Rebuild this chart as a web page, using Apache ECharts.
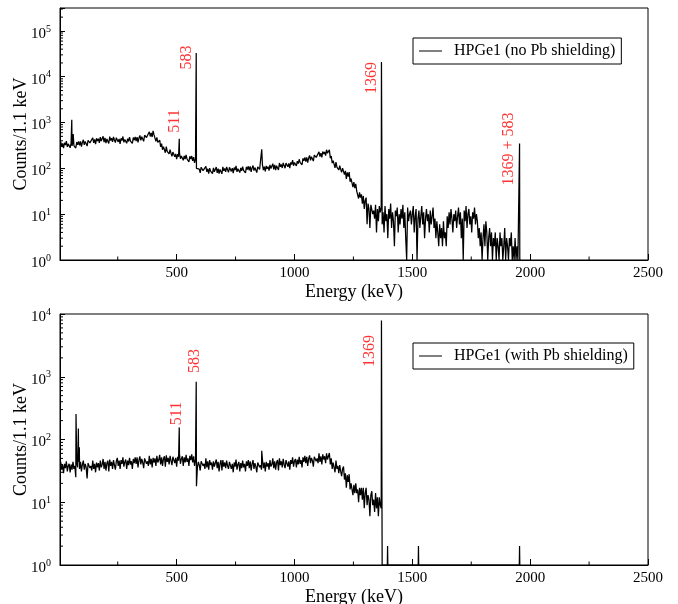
<!DOCTYPE html>
<html><head><meta charset="utf-8">
<script src="https://cdn.jsdelivr.net/npm/echarts@6/dist/echarts.min.js"></script>
<style>html,body{margin:0;padding:0;background:#fff}#c{width:678px;height:604px}</style>
</head><body><div id="c"></div>
<script>
// Energy grid of the continuum samples (keV): E = binStart + i * binWidth
const binStart = 8, binWidth = 4;

// HPGe1, no Pb shielding: continuum counts, E = 8 ... 1960 keV (20 samples per row = 80 keV)
const countsNoPb = [
  385, 302, 352, 275, 362, 322, 395, 295, 342, 369, 281, 355, 308, 382, 315, 345, 278, 375, 328, 389,
  317, 390, 299, 369, 420, 326, 388, 358, 306, 410, 433, 360, 391, 339, 465, 361, 429, 339, 453, 394,
  446, 361, 480, 395, 421, 502, 374, 463, 357, 438, 472, 349, 493, 404, 455, 378, 485, 417, 366, 468,
  483, 378, 441, 344, 454, 403, 496, 370, 428, 462, 353, 445, 386, 479, 395, 433, 349, 470, 412, 487,
  391, 482, 370, 458, 523, 409, 489, 454, 390, 528, 562, 472, 517, 454, 629, 496, 597, 483, 655, 538,
  525, 387, 475, 367, 368, 415, 294, 347, 255, 299, 309, 219, 298, 236, 257, 206, 257, 214, 182, 227,
  232, 179, 206, 158, 205, 180, 219, 162, 186, 198, 150, 187, 160, 196, 160, 173, 138, 184, 159, 186,
  145, 175, 132, 159, 100, 92, 106, 96, 80, 106, 109, 89, 95, 82, 110, 84, 98, 77, 101, 87,
  95, 77, 102, 84, 90, 107, 80, 99, 77, 95, 102, 76, 108, 88, 100, 84, 108, 93, 82, 105,
  110, 86, 101, 79, 104, 92, 113, 84, 98, 106, 81, 102, 88, 109, 90, 99, 80, 108, 94, 111,
  90, 110, 84, 102, 115, 89, 104, 96, 81, 108, 114, 95, 102, 88, 120, 92, 109, 86, 113, 98,
  109, 89, 119, 99, 106, 127, 95, 119, 92, 114, 123, 92, 131, 108, 122, 102, 132, 115, 101, 130,
  137, 108, 128, 101, 135, 121, 151, 114, 134, 146, 113, 144, 127, 158, 133, 147, 120, 165, 146, 174,
  140, 174, 134, 167, 192, 150, 180, 168, 144, 195, 207, 174, 190, 166, 229, 180, 216, 173, 233, 205,
  229, 189, 255, 214, 234, 254, 167, 185, 130, 147, 148, 103, 137, 106, 114, 92, 114, 95, 82, 101,
  106, 73, 88, 59, 82, 66, 83, 51, 60, 62, 39, 50, 37, 46, 32, 33, 22, 30, 23, 27,
  17, 25, 13, 20, 23, 6, 17, 13, 5, 16, 16, 10, 12, 8, 16, 4, 13, 7, 15, 11,
  14, 6, 11, 4, 15, 7, 10, 3, 13, 8, 17, 5, 11, 7, 2, 12, 9, 14, 4, 10,
  6, 13, 8, 16, 5, 11, 3, 1, 14, 7, 10, 12, 6, 10, 15, 4, 9, 13, 1, 8,
  12, 5, 9, 15, 6, 11, 3, 8, 13, 7, 10, 4, 12, 6, 9, 14, 5, 8, 3, 7,
  4, 2, 6, 3, 5, 2, 7, 3, 4, 2, 9, 5, 11, 6, 13, 8, 4, 10, 7, 12,
  5, 9, 14, 6, 11, 3, 8, 1, 12, 7, 15, 5, 10, 13, 6, 9, 4, 11, 8, 14,
  6, 10, 7, 3, 5, 2, 4, 1, 3, 6, 2, 7, 4, 1, 3, 5, 2, 4, 1, 3,
  2, 4, 1, 3, 2, 1, 4, 2, 3, 1, 2, 5, 1, 3, 2, 1, 3, 2, 4, 1,
  2, 1, 3, 1, 2, 1, 1, 1, 1
];
// HPGe1, with Pb shielding: continuum counts, E = 8 ... 1372 keV
const countsPb = [
  44, 33, 39, 29, 41, 35, 45, 31, 38, 41, 30, 40, 33, 44, 34, 38, 25, 43, 36, 44,
  34, 44, 31, 40, 46, 33, 41, 36, 24, 42, 45, 35, 38, 32, 46, 34, 41, 30, 43, 36,
  42, 32, 46, 36, 40, 49, 34, 44, 32, 42, 46, 31, 48, 38, 44, 34, 47, 39, 33, 45,
  51, 38, 46, 34, 47, 41, 52, 37, 44, 48, 34, 46, 39, 51, 40, 45, 34, 49, 42, 52,
  41, 52, 36, 47, 54, 40, 49, 43, 35, 50, 53, 41, 45, 38, 55, 40, 49, 36, 51, 43,
  50, 38, 55, 43, 47, 57, 40, 52, 38, 49, 54, 37, 56, 44, 51, 40, 55, 46, 39, 53,
  57, 42, 51, 37, 53, 46, 59, 41, 49, 54, 38, 52, 43, 57, 44, 50, 38, 55, 47, 58,
  43, 54, 38, 48, 18, 36, 44, 39, 32, 45, 48, 38, 41, 34, 50, 36, 45, 33, 47, 39,
  43, 33, 45, 37, 39, 48, 35, 44, 31, 41, 47, 32, 47, 37, 43, 35, 46, 38, 34, 44,
  46, 34, 41, 30, 43, 37, 48, 33, 40, 44, 31, 42, 35, 46, 36, 41, 31, 45, 38, 47,
  35, 45, 32, 41, 47, 34, 42, 37, 30, 43, 46, 36, 39, 33, 48, 35, 43, 31, 44, 37,
  42, 33, 47, 37, 40, 50, 35, 45, 33, 43, 47, 32, 50, 39, 45, 36, 49, 40, 35, 47,
  50, 37, 45, 33, 47, 41, 52, 37, 45, 49, 36, 48, 40, 53, 41, 47, 36, 52, 44, 55,
  42, 53, 38, 49, 56, 42, 51, 46, 37, 53, 57, 45, 50, 42, 60, 44, 54, 40, 58, 48,
  54, 42, 60, 48, 51, 61, 40, 50, 34, 43, 46, 30, 46, 34, 38, 29, 39, 31, 26, 34,
  37, 23, 29, 17, 27, 21, 28, 16, 20, 21, 13, 19, 14, 20, 14, 16, 10, 17, 13, 17,
  11, 17, 8, 14, 17, 9, 13, 11, 6, 13, 15, 9, 11, 7, 14, 8, 12, 6, 12, 9,
  8, 1
];
// Peak lines [energy keV, counts]
const peaksNoPb = [[55, 1150], [61, 560], [511, 440], [583, 33000], [861, 260], [1369, 21000], [1955, 350]];
const peaksPb = [[73, 255], [83, 150], [87, 75], [511, 156], [583, 830], [861, 66], [1369, 7900]];
// Sparse tail of the shielded spectrum above 1372 keV [energy keV, counts]
const tailPb = [[1394, 1], [1395, 2], [1396, 1], [1525, 1], [1526, 2], [1527, 1], [1954, 1], [1955, 2], [1956, 1]];
// Red peak annotations [energy, counts, text]
const notesNoPb = [[493, 1084, '511'], [543, 26300, '583'], [1328, 9420, '1369'], [1908, 265, '1369 + 583']];
const notesPb = [[500, 260, '511'], [578, 1780, '583'], [1318, 2570, '1369']];
// Axis ticks
const xTickLabels = [500, 1000, 1500, 2000, 2500];
const xMinorTicks = [250, 750, 1250, 1750, 2250];
const xMin = 5, xMax = 2500;
const yMaxTop = 316227.766, yMaxBottom = 10000;
const nameNoPb = 'HPGe1 (no Pb shielding)';
const namePb = 'HPGe1 (with Pb shielding)';

const FONT = 'Liberation Serif';

function buildLine(counts, peaks, extra) {
  const pts = counts.map((v, i) => [binStart + i * binWidth, v]);
  peaks.forEach(p => pts.push([p[0], p[1]]));
  (extra || []).forEach(p => pts.push([p[0], p[1]]));
  pts.sort((a, b) => a[0] - b[0]);
  return pts;
}
function minorY(max) {
  const out = [];
  for (let n = 0; n < 6; n++) for (let k = 2; k <= 9; k++) {
    const v = k * Math.pow(10, n);
    if (v < max) out.push([xMin, v]);
  }
  return out;
}
function tickSeries(idx, data, dir, len) {
  return {
    type: 'custom', xAxisIndex: idx, yAxisIndex: idx, silent: true, clip: false, z: 5,
    data: data,
    renderItem: function (params, api) {
      const p = api.coord([api.value(0), api.value(1)]);
      const shape = dir === 'x'
        ? { x1: p[0], y1: p[1], x2: p[0], y2: p[1] - len }
        : { x1: p[0], y1: p[1], x2: p[0] + len, y2: p[1] };
      return { type: 'line', shape: shape, style: { stroke: '#000', lineWidth: 1 } };
    }
  };
}
function yFormatter(v) {
  const n = Math.round(Math.log10(v));
  if (Math.abs(Math.log10(v) - n) > 1e-6) return '';
  return '{b|10}{s|' + n + '}';
}
function xAxisOpt(idx) {
  return {
    gridIndex: idx, type: 'value', min: xMin, max: xMax,
    name: 'Energy (keV)', nameLocation: 'middle', nameGap: 23, nameMoveOverlap: false,
    nameTextStyle: { fontSize: 18, color: '#000', fontFamily: FONT },
    axisLine: { show: true, lineStyle: { color: '#000', width: 1 } },
    axisTick: { show: true, inside: true, length: 6, lineStyle: { color: '#000', width: 1 } },
    axisLabel: {
      show: true, fontSize: 15, color: '#000', fontFamily: FONT, margin: 6,
      showMinLabel: true, showMaxLabel: true,
      formatter: v => xTickLabels.indexOf(v) >= 0 ? String(v) : ''
    },
    splitLine: { show: false }
  };
}
function yAxisOpt(idx, max) {
  return {
    gridIndex: idx, type: 'log', logBase: 10, min: 1, max: max,
    name: 'Counts/1.1 keV', nameLocation: 'middle', nameGap: 30, nameRotate: 90, nameMoveOverlap: false,
    nameTextStyle: { fontSize: 18, color: '#000', fontFamily: FONT },
    axisLine: { show: true, lineStyle: { color: '#000', width: 1 } },
    axisTick: { show: true, inside: true, length: 5, lineStyle: { color: '#000', width: 1 } },
    axisLabel: {
      show: true, color: '#000', fontFamily: FONT, margin: 9,
      showMinLabel: true, showMaxLabel: true,
      formatter: yFormatter,
      rich: {
        b: { fontSize: 15, fontFamily: FONT, color: '#000', padding: [6, 0, 0, 0] },
        s: { fontSize: 10, fontFamily: FONT, color: '#000', padding: [0, 0, 4, 0] }
      }
    },
    splitLine: { show: false }
  };
}
function legendOpt(name, top) {
  return {
    data: [name], left: 413, top: top, orient: 'horizontal',
    padding: [5, 6, 5, 6], borderColor: '#000', borderWidth: 1, borderRadius: 0,
    backgroundColor: '#fff', icon: 'rect', itemWidth: 23, itemHeight: 1,
    selectedMode: false,
    textStyle: { fontSize: 16, color: '#000', fontFamily: FONT, padding: [0, 0, 0, 7] }
  };
}
function notesSeries(idx, notes) {
  return {
    type: 'scatter', xAxisIndex: idx, yAxisIndex: idx, silent: true, z: 6,
    symbolSize: 1, itemStyle: { color: 'rgba(0,0,0,0)' },
    data: notes.map(n => ({ value: [n[0], n[1]], name: n[2] })),
    label: {
      show: true, position: 'inside', rotate: 90, formatter: '{b}',
      color: '#ff0000', fontSize: 16, fontFamily: FONT
    }
  };
}
function lineSeries(idx, name, data) {
  return {
    name: name, type: 'line', xAxisIndex: idx, yAxisIndex: idx, data: data,
    showSymbol: false, symbol: 'none', smooth: false,
    lineStyle: { color: '#000', width: 1.25 }, itemStyle: { color: '#000' }, z: 3
  };
}

const gridBase = { left: 60, right: 30, show: true, borderColor: '#000', borderWidth: 1,
  backgroundColor: 'transparent', containLabel: false, outerBoundsMode: 'none' };

const chart = echarts.init(document.getElementById('c'), null, { renderer: 'canvas' });
chart.setOption({
  animation: false,
  backgroundColor: '#fff',
  textStyle: { fontFamily: FONT },
  grid: [
    Object.assign({}, gridBase, { top: 8, height: 252 }),
    Object.assign({}, gridBase, { top: 314, height: 251 })
  ],
  legend: [legendOpt(nameNoPb, 38), legendOpt(namePb, 343)],
  xAxis: [xAxisOpt(0), xAxisOpt(1)],
  yAxis: [yAxisOpt(0, yMaxTop), yAxisOpt(1, yMaxBottom)],
  series: [
    lineSeries(0, nameNoPb, buildLine(countsNoPb, peaksNoPb)),
    lineSeries(1, namePb, buildLine(countsPb, peaksPb, tailPb)),
    notesSeries(0, notesNoPb),
    notesSeries(1, notesPb),
    tickSeries(0, xMinorTicks.map(v => [v, 1]), 'x', 3.5),
    tickSeries(1, xMinorTicks.map(v => [v, 1]), 'x', 3.5),
    tickSeries(0, minorY(yMaxTop), 'y', 3),
    tickSeries(1, minorY(yMaxBottom), 'y', 3)
  ]
});
</script>
</body></html>
